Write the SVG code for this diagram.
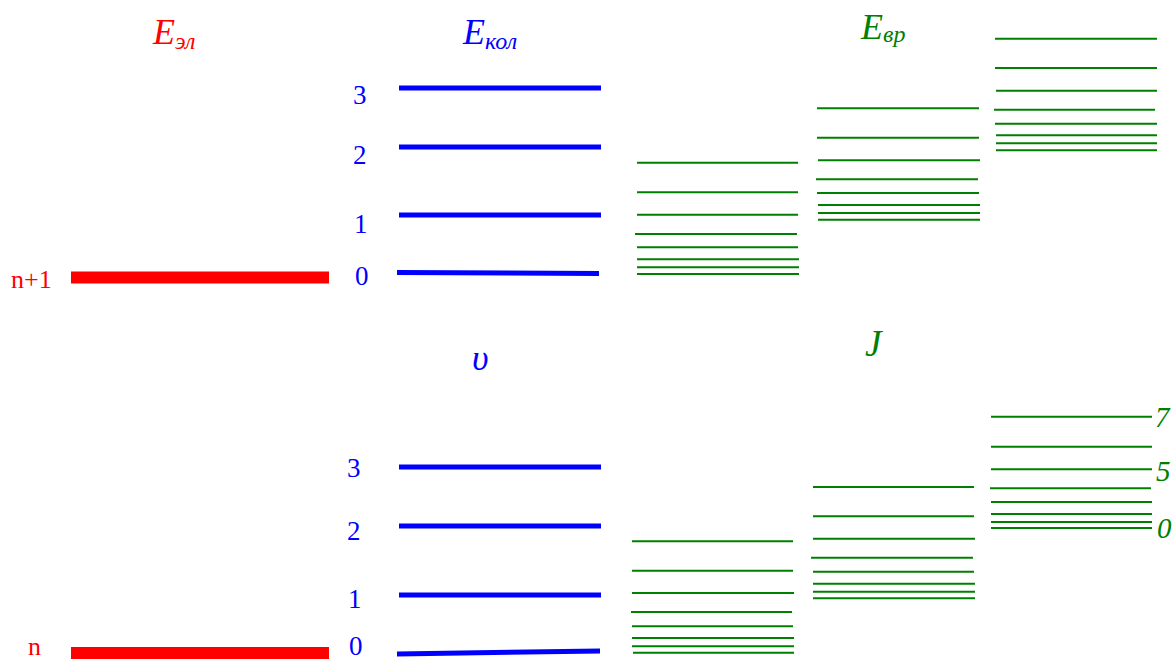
<svg xmlns="http://www.w3.org/2000/svg" width="1173" height="662" viewBox="0 0 1173 662">
<style>
text{font-family:"Liberation Serif","Times New Roman",serif}
.it{font-style:italic}
.red{fill:#ff0000}
.blue{fill:#0000ff}
.green{fill:#008000}
.el{stroke:#ff0000;stroke-width:12}
.vib{stroke:#0000ff;stroke-width:5}
.rot{stroke:#008000;stroke-width:2}
.lbl{font-size:27px}
</style>
<rect width="1173" height="662" fill="#ffffff"/>
<g id="titles">
<text class="it red" x="153" y="44" font-size="36">E<tspan font-size="24" y="49">эл</tspan></text>
<text class="it blue" x="463" y="44" font-size="36">E<tspan font-size="24" y="49">кол</tspan></text>
<text class="it green" x="861" y="39" font-size="36">E<tspan font-size="24" y="42">вр</tspan></text>
<text class="it blue" x="472" y="370" font-size="36">υ</text>
<text class="it green" x="865" y="356" font-size="37">J</text>
</g>
<g id="electronic">
<line class="el" x1="71" y1="277.5" x2="329" y2="277.5"/>
<text class="red" x="11" y="288" font-size="26">n+1</text>
<line class="el" x1="71" y1="653" x2="329" y2="653"/>
<text class="red" x="28" y="655" font-size="26">n</text>
</g>
<g id="vibrational-upper">
<line class="vib" x1="399" y1="88" x2="601" y2="88"/>
<line class="vib" x1="399" y1="147" x2="601" y2="147"/>
<line class="vib" x1="399" y1="215" x2="601" y2="215"/>
<line class="vib" x1="397" y1="272.5" x2="599" y2="273.5"/>
<text class="blue lbl" x="353" y="104">3</text>
<text class="blue lbl" x="353" y="164">2</text>
<text class="blue lbl" x="354" y="233">1</text>
<text class="blue lbl" x="355" y="285">0</text>
</g>
<g id="vibrational-lower">
<line class="vib" x1="399" y1="467" x2="601" y2="467"/>
<line class="vib" x1="399" y1="526" x2="601" y2="526"/>
<line class="vib" x1="399" y1="595" x2="601" y2="595"/>
<line class="vib" x1="397" y1="654" x2="600" y2="651"/>
<text class="blue lbl" x="347" y="477">3</text>
<text class="blue lbl" x="347" y="540">2</text>
<text class="blue lbl" x="348" y="608">1</text>
<text class="blue lbl" x="349" y="655">0</text>
</g>
<g id="rotational-upper-1">
<line class="rot" x1="637" y1="162.7" x2="798" y2="162.7"/>
<line class="rot" x1="637" y1="192.3" x2="798" y2="192.3"/>
<line class="rot" x1="637" y1="214.7" x2="798" y2="214.7"/>
<line class="rot" x1="635" y1="234" x2="797" y2="234"/>
<line class="rot" x1="637" y1="247.3" x2="798" y2="247.3"/>
<line class="rot" x1="637" y1="259.3" x2="799" y2="259.3"/>
<line class="rot" x1="637" y1="267.3" x2="799" y2="267.3"/>
<line class="rot" x1="637" y1="274" x2="799" y2="274"/>
</g>
<g id="rotational-upper-2">
<line class="rot" x1="817" y1="108.3" x2="979" y2="108.3"/>
<line class="rot" x1="817" y1="137.7" x2="979" y2="137.7"/>
<line class="rot" x1="818" y1="160.3" x2="980" y2="160.3"/>
<line class="rot" x1="816" y1="179.3" x2="978" y2="179.3"/>
<line class="rot" x1="817" y1="193" x2="979" y2="193"/>
<line class="rot" x1="818" y1="205" x2="980" y2="205"/>
<line class="rot" x1="818" y1="213" x2="980" y2="213"/>
<line class="rot" x1="818" y1="219.7" x2="980" y2="219.7"/>
</g>
<g id="rotational-upper-3">
<line class="rot" x1="995" y1="38.7" x2="1157" y2="38.7"/>
<line class="rot" x1="995" y1="68" x2="1157" y2="68"/>
<line class="rot" x1="996" y1="90.7" x2="1157" y2="90.7"/>
<line class="rot" x1="994" y1="109.7" x2="1155" y2="109.7"/>
<line class="rot" x1="995" y1="123.7" x2="1157" y2="123.7"/>
<line class="rot" x1="996" y1="135.3" x2="1157" y2="135.3"/>
<line class="rot" x1="996" y1="143.3" x2="1157" y2="143.3"/>
<line class="rot" x1="996" y1="150.3" x2="1157" y2="150.3"/>
</g>
<g id="rotational-lower-1">
<line class="rot" x1="632" y1="541.3" x2="793" y2="541.3"/>
<line class="rot" x1="632" y1="570.7" x2="793" y2="570.7"/>
<line class="rot" x1="632" y1="593" x2="794" y2="593"/>
<line class="rot" x1="631" y1="612" x2="792" y2="612"/>
<line class="rot" x1="632" y1="626.3" x2="793" y2="626.3"/>
<line class="rot" x1="632" y1="638" x2="794" y2="638"/>
<line class="rot" x1="632" y1="646.3" x2="794" y2="646.3"/>
<line class="rot" x1="633" y1="652.7" x2="794" y2="652.7"/>
</g>
<g id="rotational-lower-2">
<line class="rot" x1="813" y1="487" x2="974" y2="487"/>
<line class="rot" x1="813" y1="516.3" x2="974" y2="516.3"/>
<line class="rot" x1="813" y1="538.7" x2="975" y2="538.7"/>
<line class="rot" x1="811" y1="557.7" x2="973" y2="557.7"/>
<line class="rot" x1="813" y1="571.7" x2="974" y2="571.7"/>
<line class="rot" x1="813" y1="583.7" x2="975" y2="583.7"/>
<line class="rot" x1="813" y1="591.7" x2="975" y2="591.7"/>
<line class="rot" x1="813" y1="598.3" x2="975" y2="598.3"/>
</g>
<g id="rotational-lower-3">
<line class="rot" x1="991" y1="416.7" x2="1152" y2="416.7"/>
<line class="rot" x1="991" y1="446.7" x2="1152" y2="446.7"/>
<line class="rot" x1="991" y1="469.3" x2="1152" y2="469.3"/>
<line class="rot" x1="990" y1="488.3" x2="1151" y2="488.3"/>
<line class="rot" x1="991" y1="502" x2="1152" y2="502"/>
<line class="rot" x1="991" y1="514" x2="1152" y2="514"/>
<line class="rot" x1="991" y1="522" x2="1152" y2="522"/>
<line class="rot" x1="991" y1="528" x2="1152" y2="528"/>
<text class="it green" x="1155" y="427" font-size="29">7</text>
<text class="it green" x="1156" y="481" font-size="29">5</text>
<text class="it green" x="1157" y="538" font-size="29">0</text>
</g>
</svg>
